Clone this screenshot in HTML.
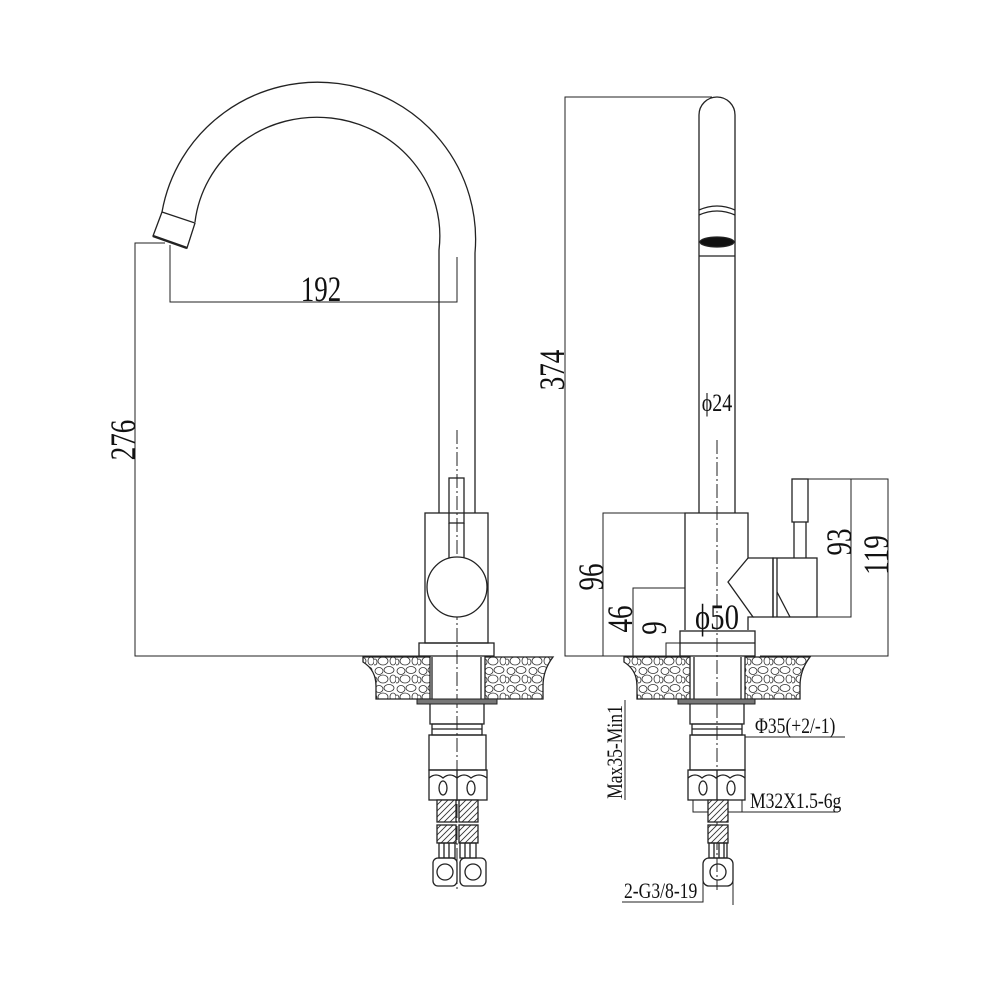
<!DOCTYPE html>
<html><head><meta charset="utf-8"><style>
html,body{margin:0;padding:0;background:#fff}
svg{display:block}
text{font-family:"Liberation Serif",serif;fill:#111}
</style></head><body>
<svg width="1000" height="1000" viewBox="0 0 1000 1000" xmlns="http://www.w3.org/2000/svg">
<defs>
<pattern id="gr" width="22" height="18" patternUnits="userSpaceOnUse">
<rect width="22" height="18" fill="#fff"/>
<g fill="none" stroke="#333" stroke-width="0.8">
<ellipse cx="5" cy="5" rx="4" ry="3.5"/><ellipse cx="15" cy="4" rx="5" ry="3.5"/>
<ellipse cx="9" cy="13" rx="5" ry="4"/><ellipse cx="19" cy="13" rx="3" ry="4"/>
<ellipse cx="1" cy="14" rx="2" ry="3"/>
</g></pattern>
<pattern id="br" width="6" height="6" patternUnits="userSpaceOnUse">
<rect width="6" height="6" fill="#fff"/><path d="M0 6L6 0M-1 1L1 -1M5 7L7 5" stroke="#333" stroke-width="0.9"/>
</pattern>
</defs>
<g fill="none" stroke="#222" stroke-width="1.3">
<path d="M475 513 L475 253 A158 157 0 0 0 162 212"/>
<path d="M439 513 L439 250 A122 118 0 0 0 195 222"/>
<path d="M162 212 L195 223 L187 248 L153 236 Z" fill="#fff"/>
<line x1="153" y1="236" x2="187" y2="248" stroke-width="2.5"/>
<g stroke-width="1">
<polyline points="165,243 135,243 135,656 420,656"/>
<polyline points="170,245 170,302 457,302 457,257"/>
<line x1="457" y1="430" x2="457" y2="890" stroke-dasharray="14 3 2 3"/>
</g>
<rect x="449" y="478" width="15" height="45"/>
<line x1="449" y1="523" x2="449" y2="558"/><line x1="464" y1="523" x2="464" y2="558"/>
<rect x="425" y="513" width="63" height="130" fill="none"/>
<circle cx="457" cy="587" r="30" fill="#fff"/>
<rect x="419" y="643" width="75" height="13"/>
<path d="M363 657 L430 657 L430 699 L376 699 L376 686 Q376 670 363 662 Z" fill="url(#gr)"/>
<path d="M485 657 L553 657 Q543 670 543 686 L543 699 L485 699 Z" fill="url(#gr)"/>
<line x1="432" y1="657" x2="432" y2="699"/><line x1="481" y1="657" x2="481" y2="699"/>
<rect x="417" y="699" width="80" height="5" fill="#777" stroke-width="1"/>
<path d="M430 704 L430 724 L484 724 L484 704"/>
<rect x="432" y="724" width="50" height="11" />
<line x1="432" y1="729" x2="482" y2="729"/>
<rect x="429" y="735" width="57" height="35"/>
<rect x="429" y="770" width="58" height="30"/>
<path d="M429 778 q7 -6 14 0 q7 -6 14 0 q7 -6 14 0 q8 -6 16 0"/>
<line x1="457" y1="770" x2="457" y2="800"/>
<ellipse cx="443" cy="788" rx="4" ry="7"/><ellipse cx="471" cy="788" rx="4" ry="7"/>
<rect x="437" y="800" width="19" height="22" fill="url(#br)"/><rect x="459" y="800" width="19" height="22" fill="url(#br)"/>
<rect x="437" y="825" width="19" height="18" fill="url(#br)"/><rect x="459" y="825" width="19" height="18" fill="url(#br)"/>
<rect x="439" y="843" width="16" height="15"/><rect x="460" y="843" width="16" height="15"/>
<path d="M444 843v15M449 843v15M465 843v15M470 843v15"/>
<rect x="433" y="858" width="24" height="28" rx="5"/><rect x="460" y="858" width="26" height="28" rx="5"/>
<circle cx="445" cy="872" r="8"/><circle cx="473" cy="872" r="8"/>

<path d="M699 513 L699 115 A18 18 0 0 1 735 115 L735 513"/>
<path d="M699 210 Q717 202 735 210 M699 215 Q717 207 735 215"/>
<ellipse cx="717" cy="242" rx="17" ry="5" fill="#111"/>
<line x1="699" y1="256" x2="735" y2="256"/>
<line x1="717" y1="440" x2="717" y2="890" stroke-width="1" stroke-dasharray="14 3 2 3"/>
<path d="M685 630 L685 513 L748 513 L748 558 L728 582 L753 617 L748 617 L748 630"/>
<path d="M748 558 L773 558 L773 617 L753 617"/>
<rect x="773" y="558" width="44" height="59"/>
<line x1="777" y1="558" x2="777" y2="617"/>
<line x1="777" y1="592" x2="790" y2="617"/>
<rect x="792" y="479" width="16" height="43"/>
<line x1="794" y1="522" x2="794" y2="558"/><line x1="806" y1="522" x2="806" y2="558"/>
<rect x="680" y="631" width="75" height="25"/>
<line x1="680" y1="643" x2="755" y2="643"/>
<g stroke-width="1">
<polyline points="712,97 565,97 565,656 680,656"/>
<polyline points="685,513 603,513 603,656"/>
<polyline points="685,588 633,588 633,656"/>
<polyline points="680,643 666,643 666,656"/>
<polyline points="808,479 888,479 888,656 760,656"/>
<polyline points="817,617 851,617 851,479"/>
<line x1="625" y1="700" x2="625" y2="800"/>
<polyline points="745,737 845,737"/>
<polyline points="693,800 693,812 838,812"/><line x1="742" y1="800" x2="742" y2="812"/>
<polyline points="622,902 703,902 703,880"/><line x1="733" y1="880" x2="733" y2="905"/>
</g>
<path d="M624 657 L690 657 L690 699 L637 699 L637 686 Q637 670 624 662 Z" fill="url(#gr)"/>
<path d="M745 657 L810 657 Q800 670 800 686 L800 699 L745 699 Z" fill="url(#gr)"/>
<line x1="694" y1="657" x2="694" y2="699"/><line x1="741" y1="657" x2="741" y2="699"/>
<rect x="678" y="699" width="77" height="5" fill="#777" stroke-width="1"/>
<path d="M690 704 L690 724 L744 724 L744 704"/>
<rect x="692" y="724" width="50" height="11"/>
<line x1="692" y1="729" x2="742" y2="729"/>
<rect x="690" y="735" width="55" height="35"/>
<rect x="688" y="770" width="57" height="30"/>
<path d="M688 778 q7 -6 14 0 q7 -6 14 0 q7 -6 14 0 q8 -6 15 0"/>
<line x1="717" y1="770" x2="717" y2="800"/>
<ellipse cx="703" cy="788" rx="4" ry="7"/><ellipse cx="731" cy="788" rx="4" ry="7"/>
<rect x="708" y="800" width="20" height="22" fill="url(#br)"/>
<rect x="708" y="825" width="20" height="18" fill="url(#br)"/>
<rect x="709" y="843" width="18" height="15"/><path d="M714 843v15M719 843v15M724 843v15"/>
<rect x="703" y="858" width="30" height="28" rx="6"/><circle cx="718" cy="872" r="8"/>
</g>
<g font-size="36">
<text transform="translate(321 301) scale(0.75 1)" text-anchor="middle">192</text>
<text transform="translate(135 440) rotate(-90) scale(0.75 1)" text-anchor="middle">276</text>
<text transform="translate(564 370) rotate(-90) scale(0.75 1)" text-anchor="middle">374</text>
<text transform="translate(603 577) rotate(-90) scale(0.75 1)" text-anchor="middle">96</text>
<text transform="translate(632 619) rotate(-90) scale(0.75 1)" text-anchor="middle">46</text>
<text transform="translate(666 628) rotate(-90) scale(0.75 1)" text-anchor="middle">9</text>
<text transform="translate(851 542) rotate(-90) scale(0.75 1)" text-anchor="middle">93</text>
<text transform="translate(888 555) rotate(-90) scale(0.75 1)" text-anchor="middle">119</text>
<text transform="translate(717 629) scale(0.8 1)" text-anchor="middle">ϕ50</text>
</g>
<text transform="translate(717 411) scale(0.8 1)" text-anchor="middle" font-size="25">ϕ24</text>
<g font-size="22">
<text transform="translate(755 733) scale(0.8 1)">Φ35(+2/-1)</text>
<text transform="translate(750 808) scale(0.8 1)">M32X1.5-6g</text>
<text transform="translate(624 898) scale(0.8 1)">2-G3/8-19</text>
<text transform="translate(622 752) rotate(-90) scale(0.8 1)" text-anchor="middle">Max35-Min1</text>
</g>
</svg>
</body></html>
